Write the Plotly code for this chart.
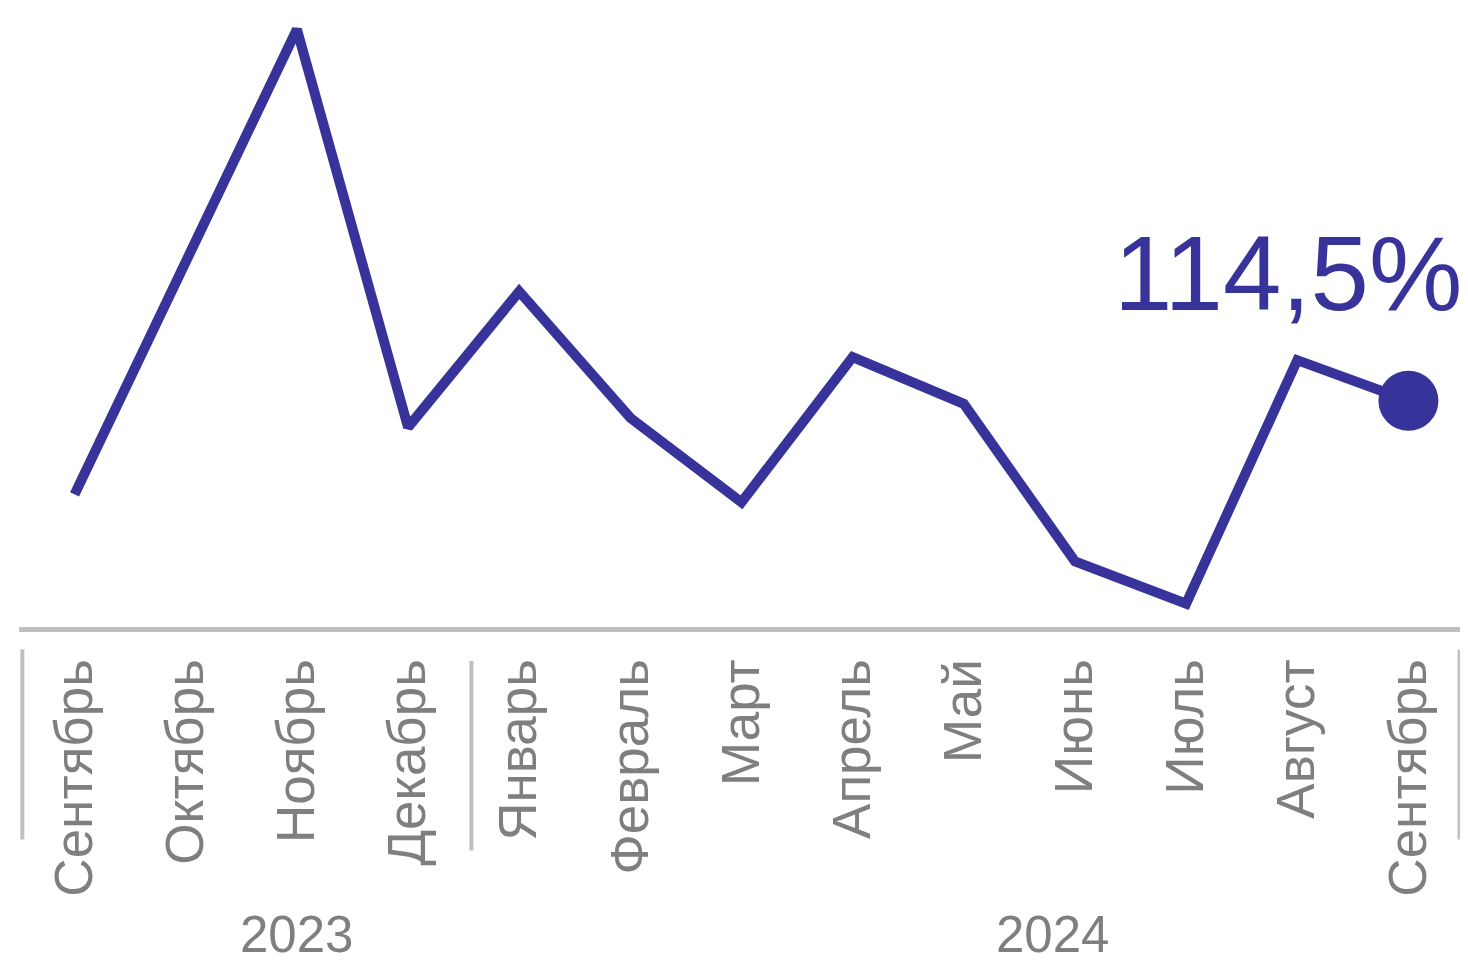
import plotly.graph_objects as go

months = ["Сентябрь", "Октябрь", "Ноябрь", "Декабрь", "Январь", "Февраль", "Март",
          "Апрель", "Май", "Июнь", "Июль", "Август", "Сентябрь"]
values = [108.5, 123.3, 138.3, 112.8, 121.5, 113.4, 108.0, 117.3, 114.3, 104.2, 101.5, 117.1, 114.5]
years = ["2023", "2024"]
year_pos = [2.0, 8.8]
last_label = "114,5%"

LINE = "#37339a"
GRAY = "#7f7f7f"
SEP = "#c0c0c0"
FONT = "Liberation Sans, Arial, sans-serif"

xidx = list(range(len(months)))

fig = go.Figure()
fig.add_trace(go.Scatter(
    x=xidx, y=values, mode="lines",
    line=dict(color=LINE, width=10),
    hoverinfo="skip", showlegend=False,
))
fig.add_trace(go.Scatter(
    x=[xidx[-1]], y=[values[-1]], mode="markers",
    marker=dict(color=LINE, size=60, line=dict(width=0)),
    hoverinfo="skip", showlegend=False,
))

fig.add_annotation(
    x=xidx[-1], y=values[-1], xref="x", yref="y",
    text=last_label, showarrow=False,
    xanchor="right", yanchor="middle", xshift=56, yshift=127,
    font=dict(family=FONT, size=105, color=LINE),
)

for yr, pos in zip(years, year_pos):
    fig.add_annotation(
        x=pos, y=-0.506, xref="x", yref="paper",
        text=yr, showarrow=False, xanchor="center", yanchor="middle",
        font=dict(family=FONT, size=51, color=GRAY),
    )

# group separators
for xs, y0, y1 in [(-0.47, -0.037, -0.350), (3.57, -0.056, -0.368), (12.46, -0.037, -0.350)]:
    fig.add_shape(type="line", xref="x", yref="paper", x0=xs, x1=xs, y0=y0, y1=y1,
                  line=dict(color=SEP, width=4))

fig.update_layout(
    width=1460, height=959,
    margin=dict(l=11, r=4, t=12, b=340),
    paper_bgcolor="white", plot_bgcolor="white",
    template="none",
    xaxis=dict(
        range=[-0.5, 12.5], tickmode="array", tickvals=xidx, ticktext=months,
        tickangle=-90, showgrid=False, zeroline=False,
        showline=True, linecolor="#bfbfbf", linewidth=5,
        ticks="", ticklabelstandoff=6, automargin=False,
        tickfont=dict(family=FONT, size=53, color=GRAY),
    ),
    yaxis=dict(range=[100.0, 138.9], visible=False, automargin=False),
)

fig.write_html("out.html")
